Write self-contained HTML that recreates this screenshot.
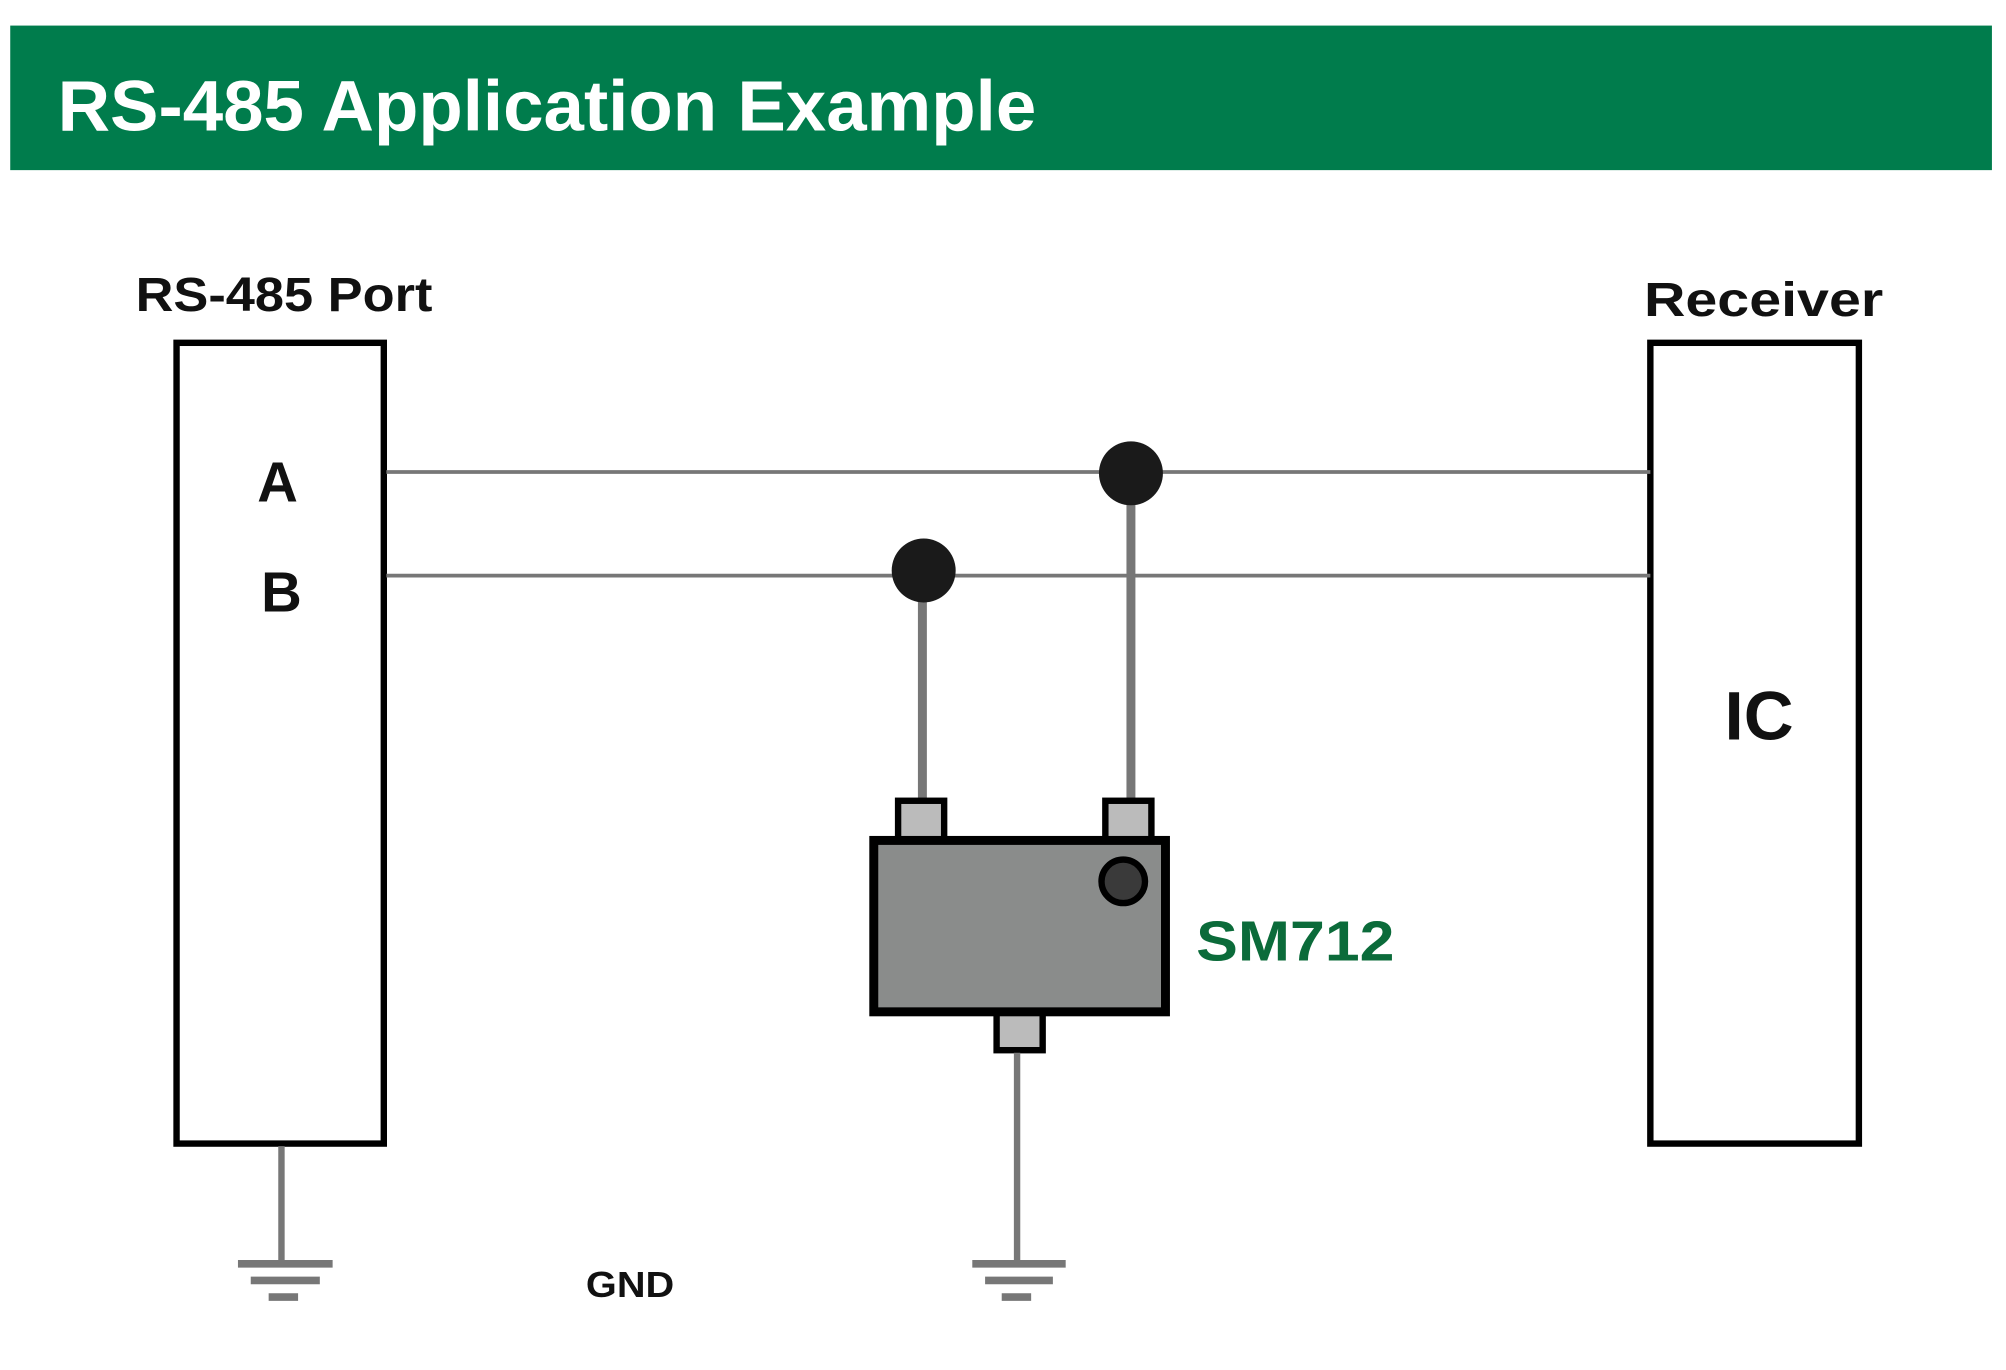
<!DOCTYPE html>
<html><head><style>html,body{margin:0;padding:0;background:#fff}svg{display:block}</style></head>
<body>
<svg width="2006" height="1370" viewBox="0 0 1568 1071" preserveAspectRatio="none" xmlns="http://www.w3.org/2000/svg" font-family="Liberation Sans, sans-serif" font-weight="bold">
<rect x="8" y="20" width="1549" height="113" fill="#007c4c"/>
<text x="45" y="102" font-size="56" fill="#fff" textLength="765" lengthAdjust="spacingAndGlyphs">RS-485 Application Example</text>
<text x="106" y="243" font-size="38" fill="#111" textLength="232" lengthAdjust="spacingAndGlyphs">RS-485 Port</text>
<text x="1285" y="247" font-size="38" fill="#111" textLength="187" lengthAdjust="spacingAndGlyphs">Receiver</text>
<rect x="138" y="268" width="162" height="626" fill="#fff" stroke="#000" stroke-width="5"/>
<rect x="1290" y="268" width="163" height="626" fill="#fff" stroke="#000" stroke-width="5"/>
<text x="217" y="392" font-size="44" text-anchor="middle" fill="#111">A</text>
<text x="220" y="478" font-size="44" text-anchor="middle" fill="#111">B</text>
<text x="1375" y="578" font-size="54" text-anchor="middle" fill="#111">IC</text>
<line x1="302" y1="369" x2="1290" y2="369" stroke="#777" stroke-width="3"/>
<line x1="302" y1="450" x2="1290" y2="450" stroke="#777" stroke-width="3"/>
<line x1="884" y1="370" x2="884" y2="625" stroke="#777" stroke-width="7"/>
<line x1="721" y1="446" x2="721" y2="625" stroke="#777" stroke-width="7"/>
<circle cx="884" cy="370" r="25" fill="#1a1a1a"/>
<circle cx="722" cy="446" r="25" fill="#1a1a1a"/>
<rect x="702" y="626" width="36" height="32" fill="#bbb" stroke="#000" stroke-width="5"/>
<rect x="864" y="626" width="36" height="32" fill="#bbb" stroke="#000" stroke-width="5"/>
<rect x="779" y="790" width="36" height="31" fill="#bbb" stroke="#000" stroke-width="5"/>
<rect x="683" y="657" width="228" height="134" fill="#8a8c8b" stroke="#000" stroke-width="7"/>
<circle cx="878" cy="689" r="17" fill="#3a3a3a" stroke="#000" stroke-width="5"/>
<text x="935" y="751" font-size="44" fill="#0b6b3a" textLength="155" lengthAdjust="spacingAndGlyphs">SM712</text>
<line x1="795" y1="823" x2="795" y2="988" stroke="#777" stroke-width="5"/>
<line x1="220" y1="896" x2="220" y2="988" stroke="#777" stroke-width="5"/>
<g stroke="#777" stroke-width="6">
<line x1="186" y1="988" x2="260" y2="988"/><line x1="196" y1="1001" x2="250" y2="1001"/><line x1="210" y1="1014" x2="233" y2="1014"/>
<line x1="760" y1="988" x2="833" y2="988"/><line x1="770" y1="1001" x2="823" y2="1001"/><line x1="783" y1="1014" x2="806" y2="1014"/>
</g>
<text x="458" y="1014" font-size="28" fill="#111" textLength="69" lengthAdjust="spacingAndGlyphs">GND</text>
</svg>
</body></html>
